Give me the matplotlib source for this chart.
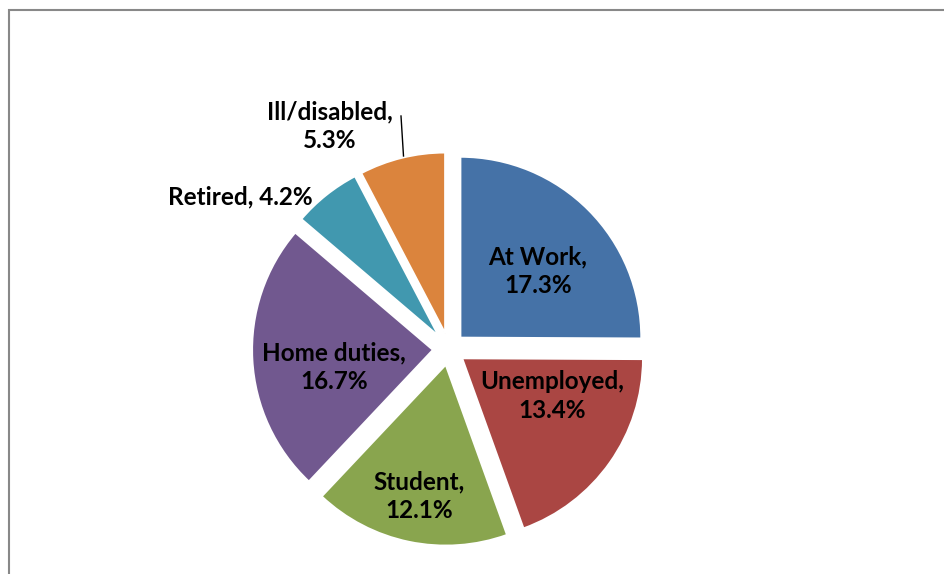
import matplotlib.pyplot as plt
from matplotlib.patches import Rectangle

labels = ['At Work', 'Unemployed', 'Student', 'Home duties', 'Retired', 'Ill/disabled']
values = [17.3, 13.4, 12.1, 16.7, 4.2, 5.3]
colors = ['#4572A7', '#AA4643', '#89A54E', '#71588F', '#4198AF', '#DB843D']

W, H = 945, 574

def py(y):
    # pixel row (from top) -> data y
    return H - y

fig = plt.figure(figsize=(W / 100, H / 100), dpi=100)
ax = fig.add_axes([0, 0, 1, 1])

wedges, _ = ax.pie(values, colors=colors, startangle=90, counterclock=False,
                   center=(449, py(349)), radius=181, explode=[16] * len(values),
                   wedgeprops=dict(edgecolor='white', linewidth=1.5))
ax.set_xlim(0, W)
ax.set_ylim(0, H)
ax.set_aspect('auto')
ax.axis('off')

# outer frame of the chart area
ax.add_patch(Rectangle((9, py(10) - 700), 1000, 700, fill=False,
                       edgecolor='#888888', linewidth=1.5))

font = dict(family='Lato', fontweight='bold', fontsize=17.5, color='black',
            ha='center', va='center', linespacing=1.3)

label_pos = [(538, 271), (552, 396), (419, 496), (334, 367), (240, 197), (330, 126)]
for i, (lab, v) in enumerate(zip(labels, values)):
    x, y = label_pos[i]
    if lab == 'Retired':
        txt = f'{lab}, {v}%'
    else:
        txt = f'{lab},\n{v}%'
    ax.text(x, py(y), txt, **font)

# leader line for Ill/disabled
ax.plot([401, 403.5], [py(116), py(156)], color='black', linewidth=1)

fig.savefig('out.png', dpi=100)
